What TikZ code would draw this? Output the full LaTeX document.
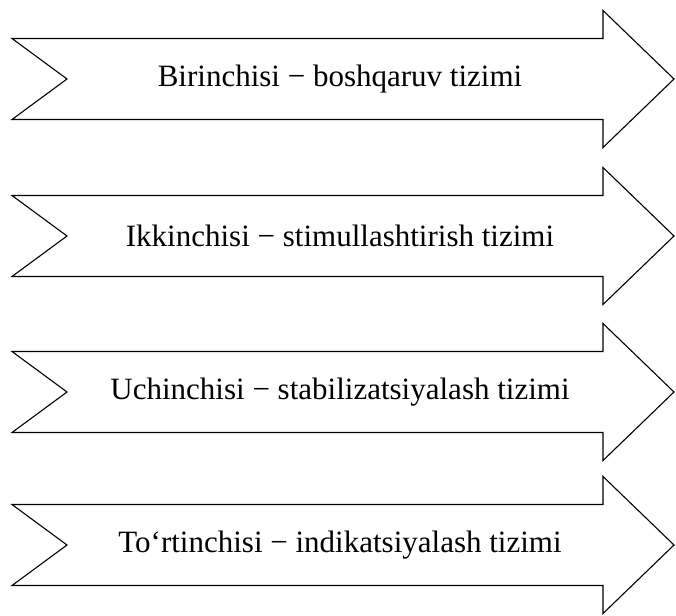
\documentclass[tikz,border=0pt]{standalone}
\usepackage{fontspec}
\setmainfont{Liberation Serif}
\begin{document}
\begin{tikzpicture}[x=1pt, y=-1pt, line width=1.1pt,
	label/.style={font=\fontsize{31}{35}\selectfont, inner sep=0pt}]
	\useasboundingbox (0,0) rectangle (676,615);

	\foreach \y/\txt [count=\i] in {79/{Birinchisi \textminus{} boshqaruv tizimi},
	                                236/{Ikkinchisi \textminus{} stimullashtirish tizimi},
	                                392/{Uchinchisi \textminus{} stabilizatsiyalash tizimi},
	                                545/{To‘rtinchisi \textminus{} indikatsiyalash tizimi}} {
		\draw (12,\y-40.5) -- (603,\y-40.5) -- (603,\y-68.5) -- (674,\y)
		      -- (603,\y+68.5) -- (603,\y+40.5) -- (12,\y+40.5) -- (67,\y) -- cycle;
		\node[label] (t\i) at (340,\y) {\txt};
	}
\end{tikzpicture}
\end{document}
